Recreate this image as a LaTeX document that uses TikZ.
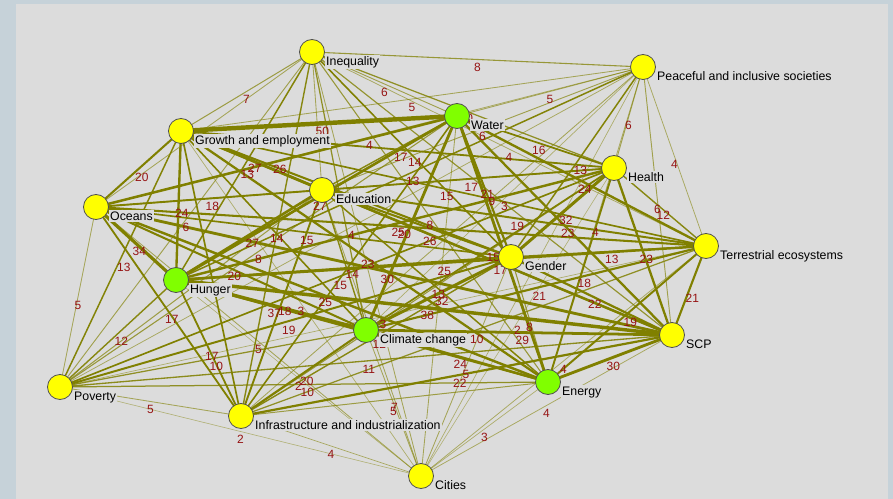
\documentclass[tikz,border=0pt]{standalone}
\usepackage{fontspec}
\setmainfont{Liberation Sans}
\pgfdeclarelayer{back}
\pgfdeclarelayer{edges}
\pgfdeclarelayer{elabels}
\pgfsetlayers{back,edges,elabels,main}
\definecolor{outerbg}{RGB}{198,210,217}
\definecolor{panel}{RGB}{220,220,220}
\definecolor{edgecol}{RGB}{128,128,0}
\definecolor{labred}{RGB}{150,20,20}
\definecolor{ynode}{RGB}{255,255,0}
\definecolor{gnode}{RGB}{128,255,0}
\definecolor{nborder}{RGB}{80,80,80}
\tikzset{
  sdg/.style={circle, draw=nborder, line width=0.8bp, minimum size=25bp, inner sep=0pt},
  yel/.style={sdg, fill=ynode},
  grn/.style={sdg, fill=gnode},
  nlab/.style={anchor=base west, fill=panel, inner xsep=1bp, inner ysep=1.5bp, font=\fontsize{12.4}{14}\selectfont, text=black},
  elab/.style={anchor=base west, inner sep=0pt, font=\fontsize{12}{14}\selectfont, text=labred},
  link/.style={draw=edgecol, line cap=butt},
}
\def\edgelist{IQ/PC/8/8, IQ/GR/7/7, IQ/WA/6/6, GR/PC/5/5, WA/PC/5/5, PC/HE/6/6, PC/TE/4/4, HE/TE/12/12, PC/SC/6/6, GR/OC/20/20,
IQ/ED/5/{}, GR/WA/50/50, IQ/HU/13/13, GR/ED/27/27, OC/WA/26/26, OC/PC/4/4, GR/HE/17/17, IQ/GE/14/14, PC/HU/13/13, WA/HE/16/16,
IQ/TE/4/4, PC/ED/6/6, GR/TE/15/15, ED/HE/17/17, PC/GE/13/13, WA/TE/24/24, WA/GE/21/21, IQ/SC/9/9, PC/CC/3/3, ED/TE/19/19,
HE/GE/32/32, WA/SC/23/23, PC/EN/4/4, GE/TE/13/13, HE/SC/23/23, HE/EN/18/18, GE/SC/22/22, TE/SC/21/21, TE/EN/19/19, EN/SC/30/30,
TE/CI/4/4, SC/CI/4/4, EN/CI/3/3, CI/IN/4/4, PO/CI/2/2, PO/IN/5/5, PO/HU/12/12, PO/OC/5/5, PO/GR/13/13, OC/HU/34/34,
GR/HU/24/24, IQ/PO/6/6, OC/ED/18/18, HU/ED/27/27, GR/CC/14/14, OC/GE/15/15, PO/WA/8/8, OC/CC/20/20, OC/IN/17/17, OC/EN/25/25,
PO/HE/15/15, WA/IN/14/14, GR/EN/23/23, OC/SC/30/30, PO/PC/4/4, HU/HE/25/25, GR/SC/26/26, IQ/EN/8/8, WA/CC/30/{}, HU/TE/25/25,
ED/SC/17/17, CC/TE/21/21, HU/SC/38/38, GE/EN/8/8, HE/CI/2/2, CC/SC/29/29, TE/IN/10/10, CC/EN/24/24, GE/CI/5/5, IN/SC/22/22,
PO/SC/11/11, CC/IN/20/20, PO/EN/10/10, HU/CI/2/2, CC/CI/5/5, EN/IN/7/7, OC/CI/5/5, HU/IN/17/17, PO/CC/10/10, HU/CC/37/37,
ED/IN/18/18, GR/CI/3/3, PO/GE/19/19, HU/WA/27/27, IQ/HE/10/10, IQ/OC/5/{}, IQ/CC/10/{}, IQ/IN/12/{}, IQ/CI/5/{}, PC/IN/5/{},
PC/CI/3/{}, WA/ED/12/{}, WA/EN/30/30, WA/CI/5/{}, GR/GE/20/{}, GR/IN/15/{}, HE/OC/8/{}, HE/CC/15/15, HE/IN/8/{}, ED/GE/20/{},
ED/CC/12/{}, ED/EN/13/13, ED/PO/7/{}, ED/CI/5/{}, OC/TE/20/20, TE/PO/3/3, GE/HU/25/{}, GE/CC/32/32, GE/IN/12/12, HU/EN/20/{}}
\begin{document}
\begin{tikzpicture}[x=1bp,y=-1bp]
\begin{pgfonlayer}{back}
\fill[outerbg] (0,0) rectangle (893,499);
\fill[panel] (16,4) rectangle (888,499);
\end{pgfonlayer}
\useasboundingbox (0,0) rectangle (893,499);
% nodes
\node[yel] (IQ) at (312,52) {};
\node[yel] (PC) at (643,67) {};
\node[grn] (WA) at (457,116) {};
\node[yel] (GR) at (181,131) {};
\node[yel] (HE) at (614,168) {};
\node[yel] (ED) at (322,190) {};
\node[yel] (OC) at (96,207) {};
\node[yel] (TE) at (706,246) {};
\node[yel] (GE) at (511,257) {};
\node[grn] (HU) at (176,280) {};
\node[grn] (CC) at (366,330) {};
\node[yel] (SC) at (672,335) {};
\node[grn] (EN) at (548,382) {};
\node[yel] (PO) at (60,387) {};
\node[yel] (IN) at (241,416) {};
\node[yel] (CI) at (421,476) {};
% node labels
\node[nlab] (IQt) at ([shift={(13,13.4)}]IQ.center) {Inequality};
\node[nlab] (PCt) at ([shift={(13,13.4)}]PC.center) {Peaceful and inclusive societies};
\node[nlab] (WAt) at ([shift={(13,13.4)}]WA.center) {Water};
\node[nlab] (GRt) at ([shift={(13,13.4)}]GR.center) {Growth and employment};
\node[nlab] (HEt) at ([shift={(13,13.4)}]HE.center) {Health};
\node[nlab] (EDt) at ([shift={(13,13.4)}]ED.center) {Education};
\node[nlab] (OCt) at ([shift={(13,13.4)}]OC.center) {Oceans};
\node[nlab] (TEt) at ([shift={(13,13.4)}]TE.center) {Terrestrial ecosystems};
\node[nlab] (GEt) at ([shift={(13,13.4)}]GE.center) {Gender};
\node[nlab] (HUt) at ([shift={(13,13.4)}]HU.center) {Hunger};
\node[nlab] (CCt) at ([shift={(13,13.4)}]CC.center) {Climate change};
\node[nlab] (SCt) at ([shift={(13,13.4)}]SC.center) {SCP};
\node[nlab] (ENt) at ([shift={(13,13.4)}]EN.center) {Energy};
\node[nlab] (POt) at ([shift={(13,13.4)}]PO.center) {Poverty};
\node[nlab] (INt) at ([shift={(13,13.4)}]IN.center) {Infrastructure and industrialization};
\node[nlab] (CIt) at ([shift={(13,13.4)}]CI.center) {Cities};
% edges
\begin{pgfonlayer}{edges}
\foreach \a/\b/\w/\l in \edgelist {
  \pgfmathsetmacro\op{min(1,0.38+0.045*\w)}
  \draw[link, draw opacity=\op, line width=0.45bp+0.08bp*\w] (\a.center) -- (\b.center);
}
\end{pgfonlayer}
\begin{pgfonlayer}{elabels}
\foreach \a/\b/\w/\l in \edgelist {
  \path (\a.center) -- (\b.center) node[pos=0.5, elab, xshift=-3.5bp, yshift=-12.3bp] (L\a\b) {\l};
}
\end{pgfonlayer}
\end{tikzpicture}
\end{document}
